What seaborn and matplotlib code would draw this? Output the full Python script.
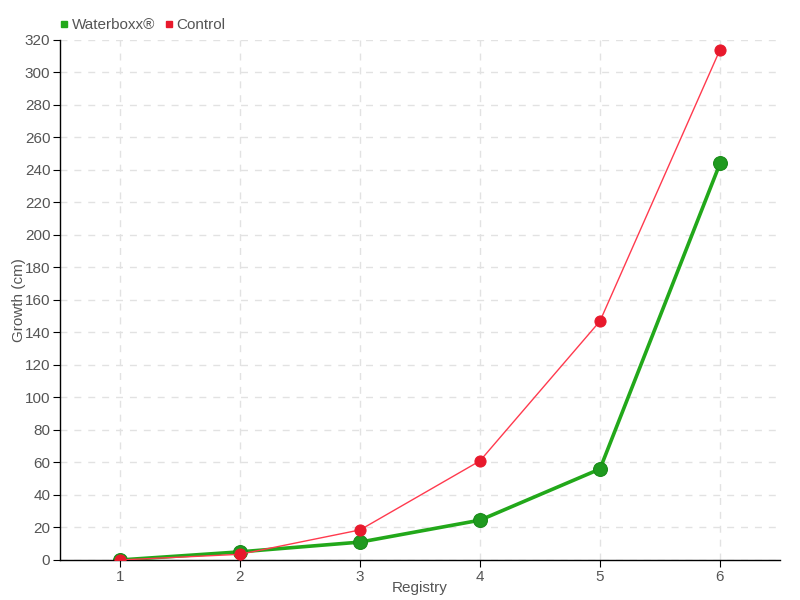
import matplotlib
matplotlib.use("Agg")
import matplotlib.pyplot as plt
from matplotlib.lines import Line2D
import seaborn as sns
import pandas as pd

########## Data ##########
registry = [1, 2, 3, 4, 5, 6]
waterboxx = [0, 5, 11, 24.5, 56, 244]
control = [0, 3.5, 18.5, 61, 147, 314]

frame = pd.DataFrame({
    "Registry": registry * 2,
    "Growth": waterboxx + control,
    "variant": ["Waterboxx®"] * len(registry) + ["Control"] * len(registry),
})

green = "#1f9a1f"
red = "#e8192c"
text_col = "#555555"

sns.set_style("white")
plt.rcParams["font.family"] = ["Liberation Sans", "DejaVu Sans"]

fig = plt.figure(figsize=(8, 6), dpi=100)
ax = fig.add_axes([0.075, 0.0667, 0.9, 0.8667])

# Control: thin red line on top, Waterboxx: thick green line below
sns.lineplot(data=frame[frame["variant"] == "Control"], x="Registry", y="Growth",
             color="#ff3a4e", linewidth=1, marker="o", markersize=8,
             markerfacecolor=red, markeredgecolor=red, ax=ax, zorder=3)
sns.lineplot(data=frame[frame["variant"] == "Waterboxx®"], x="Registry", y="Growth",
             color="#22a81a", linewidth=2.6, marker="o", markersize=10,
             markerfacecolor=green, markeredgecolor="#178a17", ax=ax, zorder=2)

ax.set_xlim(0.5, 6.5)
ax.set_ylim(0, 320)
ax.set_xticks(registry)
ax.set_yticks(range(0, 321, 20))
ax.grid(True, linestyle=(0, (5, 5)), color="#e2e2e2", linewidth=1)
for side in ["top", "right"]:
    ax.spines[side].set_visible(False)
for side in ["left", "bottom"]:
    ax.spines[side].set_color("black")
    ax.spines[side].set_linewidth(1)
ax.tick_params(axis="both", colors=text_col, labelsize=11, length=5, direction="out",
               left=True, bottom=True, pad=2)
ax.tick_params(axis="both", color="black")
ax.set_xlabel("Registry", color=text_col, fontsize=11)
ax.set_ylabel("Growth (cm)", color=text_col, fontsize=11)
ax.xaxis.set_label_coords(0.5, -0.04)
ax.yaxis.set_label_coords(-0.047, 0.5)

handles = [Line2D([], [], linestyle="none", marker="s", markersize=4.5, color="#22a81a"),
           Line2D([], [], linestyle="none", marker="s", markersize=4.5, color=red)]
fig.legend(handles, ["Waterboxx®", "Control"], loc="upper left",
           bbox_to_anchor=(0.055, 0.993), ncol=2, frameon=False, fontsize=11,
           handletextpad=0.1, columnspacing=0.5, handlelength=0.8, labelcolor=text_col)

plt.savefig("out.png")
plt.close()
